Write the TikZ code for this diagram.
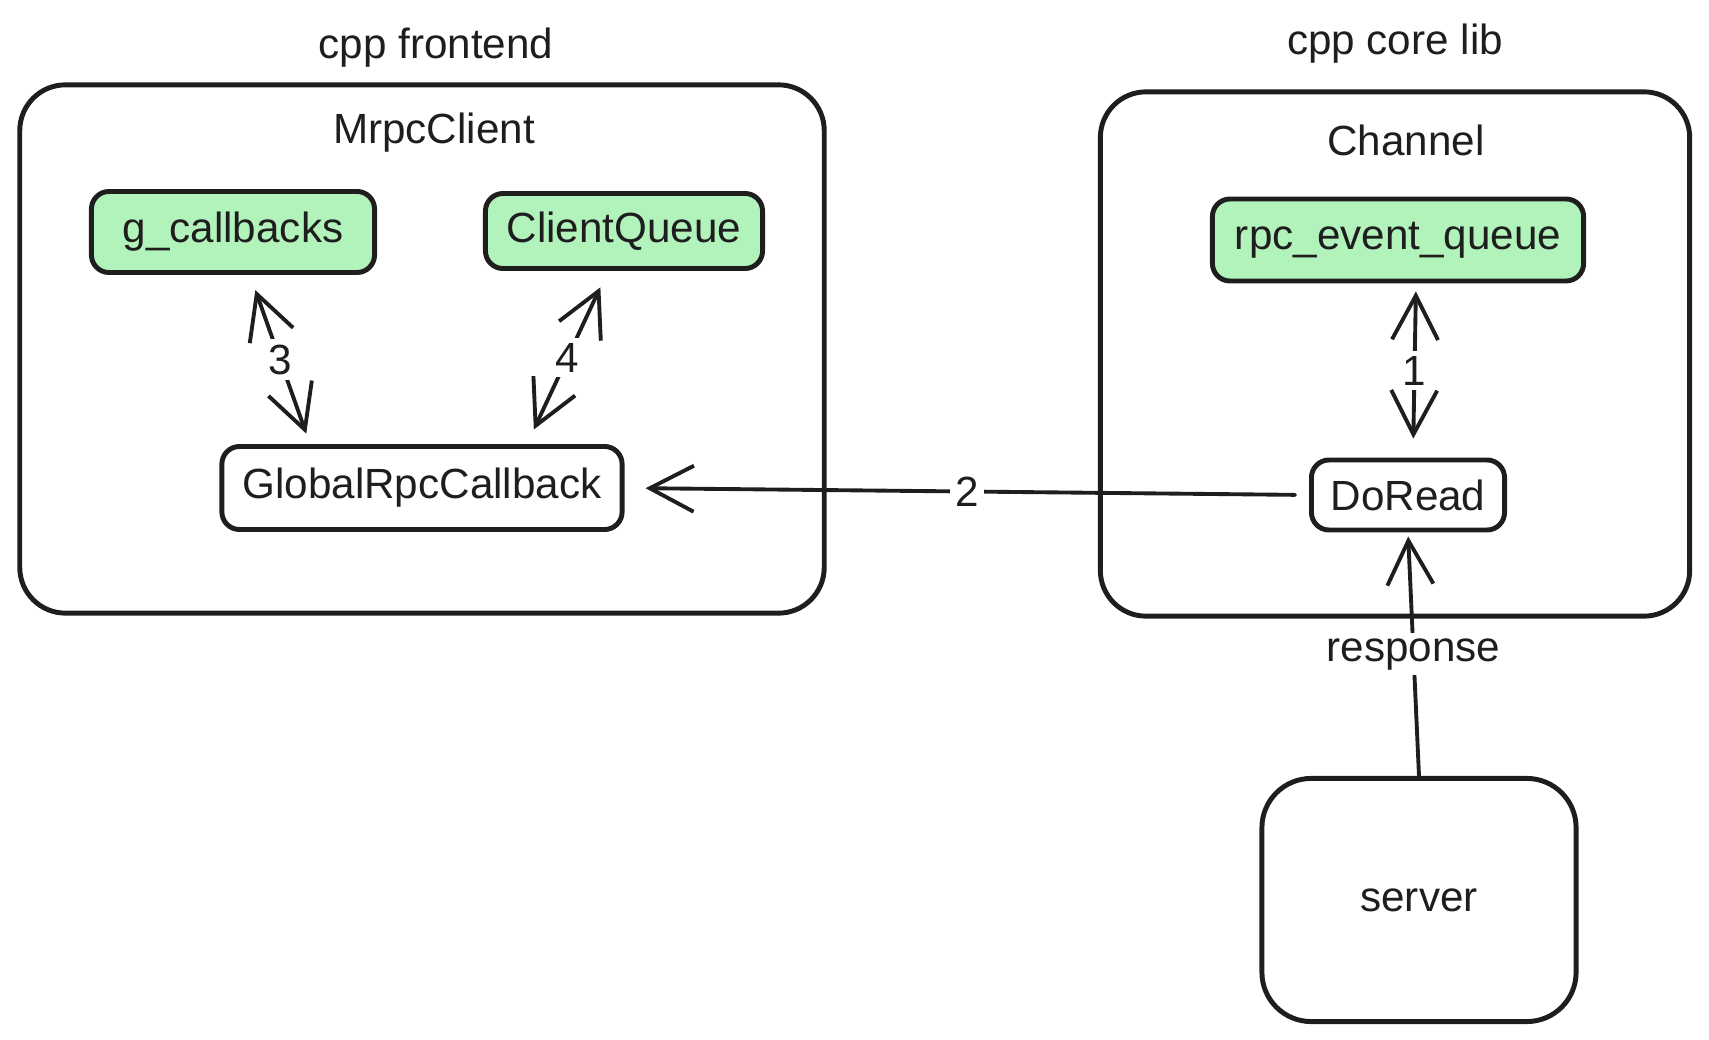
\documentclass[tikz,border=0pt]{standalone}
\usepackage{fontspec}
\setmainfont{Liberation Sans}
\usetikzlibrary{positioning,arrows.meta}
\definecolor{ink}{HTML}{1E1E1E}
\definecolor{mint}{HTML}{B2F2BB}

\begin{document}
\begin{tikzpicture}[
  x=0.01cm, y=-0.01cm, font=\fontsize{12}{14}\selectfont, text=ink,
  grp/.style={draw=ink, line width=1.4pt, rounded corners=13pt},
  fn/.style={draw=ink, line width=1.4pt, rounded corners=5pt, fill=white},
  store/.style={fn, fill=mint},
  arr/.style={draw=ink, line width=1.1pt, line cap=round,
    -{Straight Barb[length=4.4mm, width=4.6mm, line width=1.1pt]}},
  biarr/.style={arr, {Straight Barb[length=4.4mm, width=4.6mm, line width=1.1pt]}-{Straight Barb[length=4.4mm, width=4.6mm, line width=1.1pt]}},
  lbl/.style={fill=white, inner sep=1.5pt}
]
\useasboundingbox (0,0) rectangle (1709,1040);

% groups
\node[grp, minimum width=8.04cm, minimum height=5.28cm] (front) at (422,349) {};
\node[grp, minimum width=5.89cm, minimum height=5.24cm] (core) at (1395,354) {};
\node (frontlbl) at (436,48) {cpp frontend};
\node (corelbl) at (1395,44) {cpp core lib};
\node (mrpc) at (434,133) {MrpcClient};
\node (chan) at (1406,140) {Channel};

% queues and callbacks
\node[store, minimum width=2.83cm, minimum height=0.81cm] (gcb) at (233,232) {g\_callbacks};
\node[store, minimum width=2.77cm, minimum height=0.75cm] (cq) at (624,231) {ClientQueue};
\node[store, minimum width=3.71cm, minimum height=0.82cm] (req) at (1398,240) {rpc\_event\_queue};
\node[fn, minimum width=4.0cm, minimum height=0.83cm] (grc) at (422,488) {GlobalRpcCallback};
\node[fn, minimum width=1.93cm, minimum height=0.70cm] (dr) at (1408,495) {DoRead};
\node[fn, rounded corners=14pt, minimum width=3.14cm, minimum height=2.43cm] (srv) at (1419,900) {server};

% connectors
\draw[biarr, shorten <=0.16cm, shorten >=0.11cm]
  ([xshift=0.17cm]gcb.south) -- node[lbl] {3} ([xshift=-1.12cm]grc.north);
\draw[biarr, shorten <=0.18cm, shorten >=0.16cm]
  ([xshift=-0.16cm]cq.south) -- node[lbl] {4} ([xshift=1.05cm]grc.north);
\draw[biarr, shorten <=0.08cm, shorten >=0.19cm]
  ([xshift=0.18cm]req.south) -- node[lbl] {1} ([xshift=0.05cm]dr.north);
\draw[arr, shorten <=0.14cm, shorten >=0.21cm]
  (dr.west) -- node[lbl] {2} (grc.east);
\draw[arr, shorten >=0.04cm]
  (srv.north) -- node[lbl] {response} (dr.south);
\end{tikzpicture}
\end{document}
